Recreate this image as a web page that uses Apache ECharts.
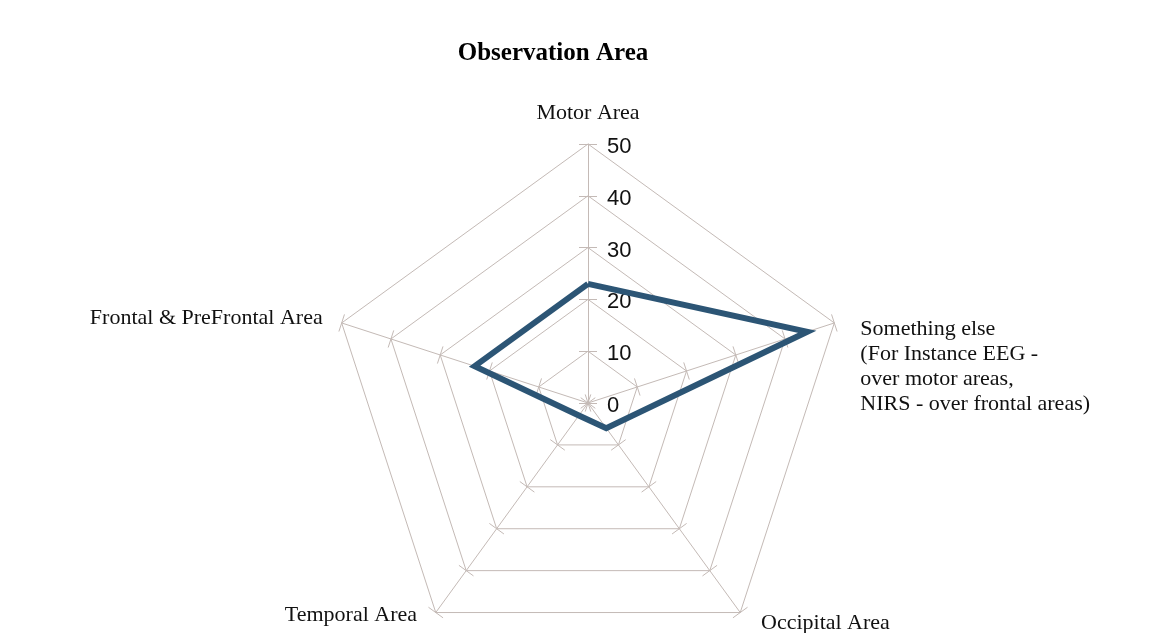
<!DOCTYPE html>
<html>
<head>
<meta charset="utf-8">
<script src="https://cdn.jsdelivr.net/npm/echarts@6/dist/echarts.min.js"></script>
<style>
html,body{margin:0;padding:0;background:#fff;}
#chart{width:1165px;height:633px;}
</style>
</head>
<body>
<div id="chart"></div>
<script>
// ---- data (ECharts radar runs counter-clockwise from the top) ----
var titleText = 'Observation Area';
var indicatorNames = [
  'Motor Area',
  'Frontal & PreFrontal Area',
  'Temporal Area',
  'Occipital Area',
  'Something else\n(For Instance EEG -\nover motor areas,\nNIRS - over frontal areas)'
];
var seriesValues = [23, 23, 3, 6, 44.5];
var axisMax = 50;
var tickValues = [0, 10, 20, 30, 40, 50];

// ---- layout / style ----
var CX = 588, CY = 403, R = 259;
var gridColor = '#c4bab6';
var serif = '"Liberation Serif", "Times New Roman", serif';
var FS = 22;

var richStyles = {
  m: {fontFamily: serif, fontSize: FS, color: '#111'},
  g: {fontFamily: serif, fontSize: 10, lineHeight: 100},
  s: {fontFamily: serif, fontSize: FS, color: '#111', lineHeight: 25, padding: [0, 0, 0, 7]},
  o: {fontFamily: serif, fontSize: FS, color: '#111', padding: [0, 0, 10, 9]},
  t: {fontFamily: serif, fontSize: FS, color: '#111', padding: [0, 7, 26, 0]},
  f: {fontFamily: serif, fontSize: FS, color: '#111', padding: [2, 0, 0, 0]}
};
var richKeys = ['m', 'f', 't', 'o', 's'];

function nameFormatter(name) {
  var idx = indicatorNames.indexOf(name);
  var key = richKeys[idx];
  if (key === 's') {
    return '{g| }\n' + name.split('\n').map(function (l) { return '{s|' + l + '}'; }).join('\n');
  }
  return '{' + key + '|' + name + '}';
}

var indicators = indicatorNames.map(function (n) { return {name: n, max: axisMax, min: 0}; });

var chart = echarts.init(document.getElementById('chart'), null, {renderer: 'canvas'});
chart.setOption({
  backgroundColor: '#ffffff',
  animation: false,
  title: {
    text: titleText,
    left: 548,
    textAlign: 'center',
    top: 36,
    textStyle: {fontFamily: serif, fontSize: 25, fontWeight: 'bold', color: '#000'}
  },
  radar: [
    {
      center: [CX, CY],
      radius: R,
      startAngle: 90,
      shape: 'polygon',
      splitNumber: 5,
      indicator: indicators,
      nameGap: 20,
      axisName: {formatter: nameFormatter, rich: richStyles, color: '#111'},
      splitArea: {show: false},
      splitLine: {lineStyle: {color: gridColor, width: 1}},
      axisLine: {lineStyle: {color: gridColor, width: 1}},
      axisTick: {show: true, length: 9, lineStyle: {color: gridColor, width: 1}},
      axisLabel: {show: false}
    },
    {
      center: [CX, CY],
      radius: R,
      startAngle: 90,
      shape: 'polygon',
      splitNumber: 5,
      indicator: indicators,
      axisName: {show: false},
      splitArea: {show: false},
      splitLine: {show: false},
      axisLine: {show: false},
      axisTick: {show: true, length: -9, lineStyle: {color: gridColor, width: 1}},
      axisLabel: {show: false}
    }
  ],
  grid: {left: CX, top: CY - R, width: 1, height: R},
  xAxis: {type: 'value', show: false},
  yAxis: {
    type: 'value',
    min: tickValues[0],
    max: tickValues[tickValues.length - 1],
    interval: tickValues[1] - tickValues[0],
    position: 'left',
    axisLine: {show: false},
    axisTick: {show: false},
    splitLine: {show: false},
    axisLabel: {
      inside: true, margin: 19,
      formatter: function (v) { return '{v|' + v + '}'; },
      rich: {v: {fontFamily: '"Liberation Sans", Arial, sans-serif', fontSize: 22, color: '#111', padding: [6, 0, 0, 0]}}
    }
  },
  series: [{
    type: 'radar',
    radarIndex: 0,
    symbol: 'none',
    lineStyle: {color: '#2c5575', width: 6, join: 'miter'},
    itemStyle: {color: '#2c5575'},
    data: [{value: seriesValues, name: titleText}]
  }]
});
</script>
</body>
</html>
